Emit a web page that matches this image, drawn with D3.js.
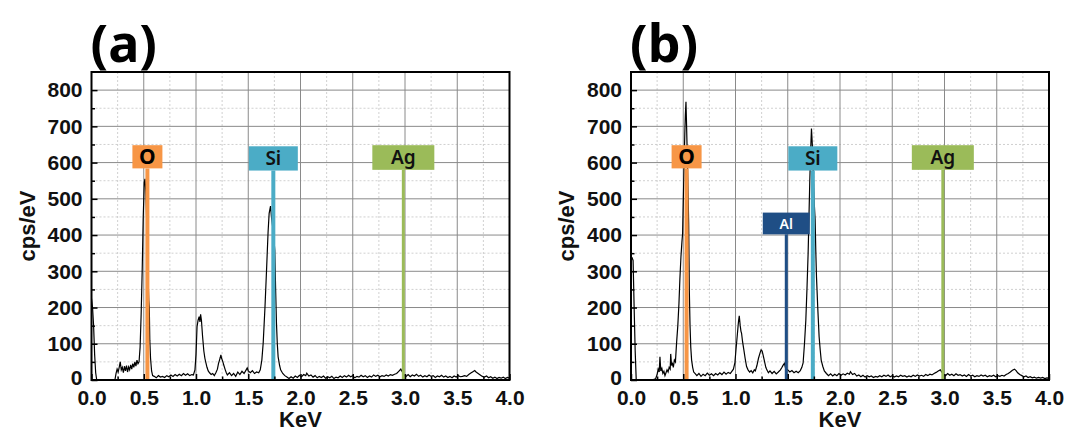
<!DOCTYPE html>
<html>
<head>
<meta charset="utf-8">
<script src="https://cdn.jsdelivr.net/npm/d3@7"></script>
<style>
  body { margin: 0; background: #fff; }
  .tick text { font-family: "Liberation Sans", Arial, sans-serif; font-weight: bold; font-size: 21px; fill: #111; }
  .axis-title { font-family: "Liberation Sans", Arial, sans-serif; font-weight: bold; font-size: 22px; fill: #111; }
  .panel-title { font-family: "Noto Sans", sans-serif; font-weight: bold; font-size: 52px; fill: #000; }
  .el-label { font-family: "Noto Sans", sans-serif; font-weight: 600; }
</style>
</head>
<body>
<script>
// tick labels
var energyTicks = [0, 0.5, 1.0, 1.5, 2.0, 2.5, 3.0, 3.5, 4.0];
var cpsTicks = [0, 100, 200, 300, 400, 500, 600, 700, 800];

// spectrum (a): [keV, cps/eV]
var spectrumA = [
  [0.000,225],[0.010,200],[0.020,150],[0.030,70],[0.040,20],[0.050,0],[0.100,0],[0.150,0],[0.200,0],
  [0.225,2],[0.235,18],[0.245,30],[0.255,22],[0.265,35],[0.275,50],[0.285,28],[0.295,35],[0.305,20],
  [0.315,38],[0.325,25],[0.335,40],[0.345,22],[0.355,36],[0.365,28],[0.375,42],[0.385,30],[0.395,45],
  [0.405,35],[0.415,50],[0.425,38],[0.435,55],[0.445,45],[0.455,50],[0.465,90],[0.475,180],[0.485,300],
  [0.495,450],[0.505,545],[0.512,555],[0.520,520],[0.530,420],[0.540,300],[0.548,220],[0.553,200],
  [0.558,110],[0.565,60],[0.575,25],[0.585,12],[0.600,10],[0.620,6],[0.640,12],[0.660,8],[0.680,10],
  [0.700,7],[0.720,12],[0.740,9],[0.760,14],[0.780,10],[0.800,15],[0.820,11],[0.840,16],[0.860,12],
  [0.880,18],[0.900,13],[0.920,17],[0.940,12],[0.960,15],[0.975,14],[0.990,28],[1.000,70],[1.010,147],
  [1.020,165],[1.030,175],[1.038,160],[1.044,181],[1.052,165],[1.063,120],[1.075,80],[1.085,60],
  [1.095,47],[1.105,35],[1.117,25],[1.130,20],[1.145,15],[1.160,18],[1.175,12],[1.190,20],[1.205,30],
  [1.215,45],[1.225,55],[1.232,62],[1.238,69],[1.245,60],[1.255,52],[1.267,40],[1.280,28],[1.290,20],
  [1.300,14],[1.320,20],[1.340,12],[1.360,18],[1.380,10],[1.400,22],[1.420,15],[1.440,24],[1.460,18],
  [1.480,28],[1.490,33],[1.500,25],[1.520,20],[1.540,26],[1.560,18],[1.580,22],[1.600,20],[1.615,28],
  [1.630,55],[1.643,102],[1.660,200],[1.675,303],[1.690,410],[1.700,460],[1.713,480],[1.722,450],
  [1.735,420],[1.745,390],[1.754,358],[1.762,250],[1.770,157],[1.778,100],[1.786,64],[1.800,40],
  [1.810,28],[1.830,18],[1.850,12],[1.870,8],[1.890,4],[1.910,9],[1.930,5],[1.950,11],[1.970,7],
  [1.990,13],[2.010,9],[2.030,15],[2.050,12],[2.060,19],[2.080,11],[2.100,14],[2.120,8],[2.140,12],
  [2.160,6],[2.180,10],[2.200,7],[2.220,11],[2.240,5],[2.260,9],[2.280,6],[2.300,10],[2.320,4],
  [2.340,8],[2.360,6],[2.380,11],[2.400,7],[2.420,12],[2.440,8],[2.460,13],[2.480,9],[2.500,12],
  [2.520,6],[2.540,10],[2.560,8],[2.580,13],[2.600,9],[2.620,12],[2.640,7],[2.660,11],[2.680,8],
  [2.700,14],[2.720,10],[2.740,13],[2.760,9],[2.780,12],[2.800,10],[2.820,14],[2.840,11],[2.860,15],
  [2.880,13],[2.900,16],[2.920,18],[2.940,24],[2.960,30],[2.975,22],[2.990,14],[3.010,10],[3.030,15],
  [3.050,9],[3.070,14],[3.090,11],[3.110,16],[3.130,10],[3.150,13],[3.170,8],[3.190,12],[3.210,9],
  [3.230,14],[3.250,10],[3.270,12],[3.290,7],[3.310,11],[3.330,9],[3.350,13],[3.370,8],[3.390,11],
  [3.410,7],[3.430,10],[3.450,6],[3.470,11],[3.490,8],[3.510,12],[3.530,9],[3.550,10],[3.570,12],
  [3.590,10],[3.610,15],[3.630,19],[3.650,23],[3.667,26],[3.680,22],[3.700,18],[3.720,14],[3.740,10],
  [3.760,8],[3.780,11],[3.800,6],[3.820,9],[3.840,5],[3.860,8],[3.880,4],[3.900,7],[3.920,5],
  [3.940,8],[3.960,4],[3.980,7],[4.000,5]
];

// spectrum (b): [keV, cps/eV]
var spectrumB = [
  [0.000,340],[0.010,338],[0.020,330],[0.030,200],[0.040,80],[0.050,0],[0.100,0],[0.150,0],[0.200,0],
  [0.235,3],[0.250,15],[0.260,30],[0.270,22],[0.277,64],[0.285,25],[0.295,32],[0.305,18],[0.315,24],
  [0.325,12],[0.335,20],[0.345,28],[0.355,22],[0.365,35],[0.375,30],[0.380,72],[0.388,40],[0.395,48],
  [0.405,35],[0.415,55],[0.425,50],[0.437,106],[0.448,150],[0.459,212],[0.468,280],[0.478,340],
  [0.487,380],[0.494,405],[0.500,490],[0.507,580],[0.515,680],[0.520,730],[0.526,768],[0.532,700],
  [0.540,600],[0.546,520],[0.552,430],[0.558,248],[0.565,150],[0.572,90],[0.580,55],[0.590,35],
  [0.600,22],[0.612,18],[0.630,12],[0.650,18],[0.670,10],[0.690,16],[0.710,12],[0.730,19],[0.750,13],
  [0.770,17],[0.790,12],[0.810,18],[0.830,14],[0.850,20],[0.870,15],[0.890,22],[0.910,16],[0.930,21],
  [0.950,18],[0.965,24],[0.980,30],[0.994,47],[1.005,85],[1.016,120],[1.025,150],[1.030,165],
  [1.036,177],[1.045,150],[1.052,135],[1.058,129],[1.068,105],[1.080,83],[1.092,60],[1.106,37],
  [1.120,28],[1.135,22],[1.150,26],[1.165,20],[1.180,28],[1.190,25],[1.205,40],[1.220,60],[1.235,75],
  [1.245,83],[1.255,80],[1.265,68],[1.275,55],[1.290,35],[1.300,28],[1.315,20],[1.330,25],[1.350,18],
  [1.370,24],[1.390,17],[1.410,22],[1.430,28],[1.445,35],[1.456,41],[1.468,46],[1.480,32],[1.500,28],
  [1.520,22],[1.540,26],[1.560,20],[1.580,24],[1.600,20],[1.620,26],[1.635,35],[1.647,47],[1.660,100],
  [1.673,165],[1.685,260],[1.695,350],[1.703,450],[1.711,551],[1.720,640],[1.727,694],[1.735,650],
  [1.745,560],[1.755,480],[1.762,443],[1.768,360],[1.775,285],[1.787,200],[1.800,120],[1.810,85],
  [1.820,55],[1.835,38],[1.850,25],[1.870,18],[1.890,12],[1.910,17],[1.930,11],[1.950,16],[1.970,12],
  [1.990,18],[2.010,13],[2.030,17],[2.050,14],[2.070,19],[2.090,16],[2.100,23],[2.120,15],[2.140,18],
  [2.160,11],[2.180,14],[2.200,9],[2.220,13],[2.240,8],[2.260,12],[2.280,9],[2.300,11],[2.320,7],
  [2.340,10],[2.360,8],[2.380,12],[2.400,9],[2.420,13],[2.440,10],[2.460,14],[2.480,9],[2.500,12],
  [2.520,8],[2.540,11],[2.560,9],[2.580,13],[2.600,10],[2.620,12],[2.640,8],[2.660,11],[2.680,9],
  [2.700,13],[2.720,10],[2.740,14],[2.760,11],[2.780,13],[2.800,10],[2.820,15],[2.840,12],[2.860,16],
  [2.880,14],[2.900,18],[2.920,21],[2.940,25],[2.960,28],[2.975,22],[2.990,16],[3.010,12],[3.030,18],
  [3.050,13],[3.070,16],[3.090,12],[3.110,17],[3.130,13],[3.150,15],[3.170,11],[3.190,14],[3.210,10],
  [3.230,15],[3.250,11],[3.270,13],[3.290,9],[3.310,12],[3.330,10],[3.350,14],[3.370,11],[3.390,13],
  [3.410,9],[3.430,12],[3.450,10],[3.470,13],[3.490,9],[3.510,12],[3.530,10],[3.550,13],[3.570,11],
  [3.590,15],[3.610,18],[3.630,22],[3.650,27],[3.670,30],[3.685,26],[3.700,20],[3.720,15],[3.740,12],
  [3.760,9],[3.780,11],[3.800,7],[3.820,9],[3.840,6],[3.860,8],[3.880,5],[3.900,7],[3.920,5],
  [3.940,7],[3.960,4],[3.980,6],[4.000,5]
];

// element lines
var elementsA = [["O", 0.535], ["Si", 1.74], ["Ag", 2.984]];
var elementsB = [["O", 0.532], ["Al", 1.486], ["Si", 1.74], ["Ag", 2.984]];

// styling of the marker boxes
var elColor = {O: "#f79646", Si: "#4bacc6", Ag: "#9bbb59", Al: "#1f4e85"};
var elText = {O: "#000", Si: "#111", Ag: "#111", Al: "#fff"};
var elBoxW = {O: 30, Si: 49, Ag: 62, Al: 47};
var elBoxTop = {O: 648, Si: 645, Ag: 648, Al: 462};
var elBoxBot = {O: 584, Si: 578, Ag: 580, Al: 402};
var elFont = {O: 21, Si: 19, Ag: 19, Al: 14};
var elLineW = {O: 4, Si: 4, Ag: 3, Al: 3};

var W = 418, H = 308;

var svg = d3.select("body").append("svg")
    .attr("width", 1066)
    .attr("height", 431);

svg.append("rect").attr("width", 1066).attr("height", 431).attr("fill", "#fff");

function drawPanel(left, title, spectrum, elements, id) {
  var g = svg.append("g").attr("transform", "translate(" + left + ",72)");

  var x = d3.scaleLinear().domain([0, 4]).range([0, W]);
  var y = d3.scaleLinear().domain([0, 850]).range([H, 0]);

  // minor grid
  g.append("g").selectAll("line")
      .data(d3.range(0.25, 4, 0.5))
    .enter().append("line")
      .attr("x1", function(d) { return x(d); }).attr("x2", function(d) { return x(d); })
      .attr("y1", 0).attr("y2", H)
      .attr("stroke", "#c4c4c4").attr("stroke-width", 0.8).attr("stroke-dasharray", "2,2");
  g.append("g").selectAll("line")
      .data(d3.range(50, 850, 100))
    .enter().append("line")
      .attr("y1", function(d) { return y(d); }).attr("y2", function(d) { return y(d); })
      .attr("x1", 0).attr("x2", W)
      .attr("stroke", "#c4c4c4").attr("stroke-width", 0.8).attr("stroke-dasharray", "2,2");

  // major grid
  g.append("g").selectAll("line")
      .data(energyTicks.slice(1, -1))
    .enter().append("line")
      .attr("x1", function(d) { return x(d); }).attr("x2", function(d) { return x(d); })
      .attr("y1", 0).attr("y2", H)
      .attr("stroke", "#8a8a8a").attr("stroke-width", 1);
  g.append("g").selectAll("line")
      .data(cpsTicks.slice(1))
    .enter().append("line")
      .attr("y1", function(d) { return y(d); }).attr("y2", function(d) { return y(d); })
      .attr("x1", 0).attr("x2", W)
      .attr("stroke", "#8a8a8a").attr("stroke-width", 1);

  // spectrum
  g.append("clipPath").attr("id", "clip" + id)
    .append("rect").attr("width", W).attr("height", H);

  var line = d3.line()
      .x(function(d) { return x(d[0]); })
      .y(function(d) { return y(d[1]); });

  g.append("path")
      .datum(spectrum)
      .attr("clip-path", "url(#clip" + id + ")")
      .attr("fill", "none")
      .attr("stroke", "#000")
      .attr("stroke-width", 1.2)
      .attr("d", line);

  // element markers
  elements.forEach(function(e) {
    var el = e[0], xe = x(e[1]);
    g.append("line")
        .attr("x1", xe).attr("x2", xe)
        .attr("y1", y(elBoxBot[el])).attr("y2", H)
        .attr("stroke", elColor[el]).attr("stroke-width", elLineW[el]);
    g.append("rect")
        .attr("x", xe - elBoxW[el] / 2)
        .attr("y", y(elBoxTop[el]))
        .attr("width", elBoxW[el])
        .attr("height", y(elBoxBot[el]) - y(elBoxTop[el]))
        .attr("fill", elColor[el]);
    g.append("text")
        .attr("class", "el-label")
        .attr("x", xe)
        .attr("y", (y(elBoxBot[el]) + y(elBoxTop[el])) / 2)
        .attr("dy", "0.36em")
        .attr("text-anchor", "middle")
        .style("font-size", elFont[el] + "px")
        .style("font-weight", el === "O" ? 700 : 600)
        .attr("fill", elText[el])
        .text(el);
  });

  // axes
  g.append("g")
      .call(d3.axisLeft(y).tickValues(cpsTicks).tickSize(-6).tickPadding(9).tickFormat(d3.format("d")))
      .call(function(a) { a.select(".domain").remove(); })
      .call(function(a) { a.selectAll(".tick text").filter(function(d) { return d === 0; }).attr("dy", "0.2em"); })
      .selectAll(".tick line").attr("stroke", "#000").attr("stroke-width", 1.5);
  g.append("g")
      .call(d3.axisLeft(y).tickValues(d3.range(50, 850, 100)).tickSize(-3.5).tickFormat(""))
      .call(function(a) { a.select(".domain").remove(); })
      .selectAll(".tick line").attr("stroke", "#000").attr("stroke-width", 1.5);

  g.append("g")
      .attr("transform", "translate(0," + H + ")")
      .call(d3.axisBottom(x).tickValues(energyTicks).tickSize(-6).tickPadding(10).tickFormat(d3.format(".1f")))
      .call(function(a) { a.select(".domain").remove(); })
      .selectAll(".tick line").attr("stroke", "#000").attr("stroke-width", 1.5);
  g.append("g")
      .attr("transform", "translate(0," + H + ")")
      .call(d3.axisBottom(x).tickValues(d3.range(0.25, 4, 0.5)).tickSize(-3.5).tickFormat(""))
      .call(function(a) { a.select(".domain").remove(); })
      .selectAll(".tick line").attr("stroke", "#000").attr("stroke-width", 1.5);

  // frame
  g.append("rect")
      .attr("width", W).attr("height", H)
      .attr("fill", "none").attr("stroke", "#000").attr("stroke-width", 2);

  // titles
  g.append("text")
      .attr("class", "axis-title")
      .attr("x", W / 2).attr("y", H + 47)
      .attr("text-anchor", "middle")
      .text("KeV");
  g.append("text")
      .attr("class", "axis-title")
      .attr("transform", "translate(-57," + (H / 2) + ") rotate(-90)")
      .attr("text-anchor", "middle")
      .text("cps/eV");
  g.append("text")
      .attr("class", "panel-title")
      .attr("x", -1).attr("y", -10)
      .text(title);
}

drawPanel(91.5, "(a)", spectrumA, elementsA, "a");
drawPanel(631, "(b)", spectrumB, elementsB, "b");
</script>
</body>
</html>
